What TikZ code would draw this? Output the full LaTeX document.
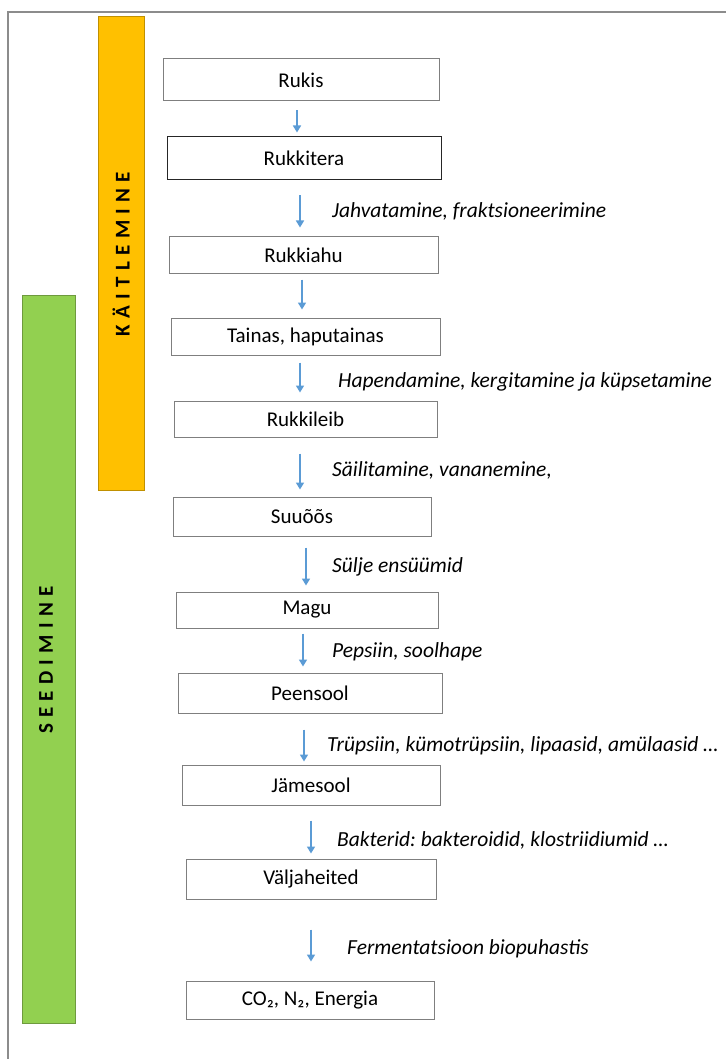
\documentclass[tikz,border=0pt]{standalone}
\usepackage{fontspec}
\setmainfont{Carlito}
\frenchspacing
\usetikzlibrary{arrows.meta}
\definecolor{framegray}{HTML}{8C8C8C}
\definecolor{boxgray}{HTML}{7F7F7F}
\definecolor{arrblue}{HTML}{5B9BD5}
\definecolor{barorange}{HTML}{FFC000}
\definecolor{barorangeline}{HTML}{C09000}
\definecolor{bargreen}{HTML}{92D050}
\definecolor{bargreenline}{HTML}{6E9A3E}
\tikzset{
  stagebox/.style={draw=boxgray, line width=1pt, fill=white, inner sep=0pt, font=\fontsize{21}{24}\selectfont},
  lbl/.style={anchor=west, inner sep=0pt, font=\fontsize{21.5}{24}\selectfont\itshape},
  arr/.style={draw=arrblue, line width=1.6pt, -{Triangle[length=7pt,width=8pt]}},
  bartext/.style={rotate=90, inner sep=0pt, font=\fontsize{21}{23}\selectfont\bfseries\addfontfeatures{LetterSpace=30}}
}
\begin{document}
\begin{tikzpicture}[x=1pt,y=-1pt]
\useasboundingbox (0,0) rectangle (726,1059);
% frame
\draw[framegray, line width=1.6pt] (8,1059) -- (8,12) -- (726,12);
% bars
\draw[barorangeline, fill=barorange, line width=0.8pt] (98,16) rectangle (144,490);
\draw[bargreenline, fill=bargreen, line width=0.8pt] (22,295) rectangle (75,1023);
\node[bartext] (kait) at (121,254) {KÄITLEMINE};
\node[bartext] (seed) at (46,660) {SEEDIMINE};
% boxes
\node[stagebox, minimum width=276pt, minimum height=42pt] (rukis) at (301,80) {Rukis};
\node[stagebox, draw=black!85, minimum width=274pt, minimum height=43pt] (rukkitera) at (304,158.5) {Rukkitera};
\node[stagebox, minimum width=269pt, minimum height=36pt] (rukkiahu) at (303.5,255) {Rukkiahu};
\node[stagebox, minimum width=269pt, minimum height=37pt] (tainas) at (305.5,336.5) {Tainas, haputainas};
\node[stagebox, minimum width=263pt, minimum height=36pt] (rukkileib) at (305.5,419) {Rukkileib};
\node[stagebox, minimum width=258pt, minimum height=39pt] (suuoos) at (302,516.5) {Suuõõs};
\node[stagebox, minimum width=262pt, minimum height=36pt] (magu) at (307,610) {Magu};
\node[stagebox, minimum width=264pt, minimum height=40pt] (peensool) at (310,693) {Peensool};
\node[stagebox, minimum width=258pt, minimum height=40pt] (jamesool) at (311,785) {Jämesool};
\node[stagebox, minimum width=250pt, minimum height=40pt] (valja) at (311,879) {Väljaheited};
\node[stagebox, minimum width=248pt, minimum height=38pt] (co2) at (310,1000) {CO₂, N₂, Energia};
% arrow x positions
\coordinate (a1) at (297,0);
\coordinate (a2) at (300,0);
\coordinate (a3) at (302,0);
\coordinate (a4) at (300,0);
\coordinate (a5) at (300,0);
\coordinate (a6) at (306,0);
\coordinate (a7) at (303,0);
\coordinate (a8) at (304,0);
\coordinate (a9) at (311,0);
\coordinate (a10) at (311,0);
% arrows
\draw[arr, shorten <=9pt, shorten >=4pt] (rukis.south -| a1) -- (rukkitera.north -| a1);
\draw[arr, shorten <=15pt, shorten >=9pt] (rukkitera.south -| a2) -- (rukkiahu.north -| a2);
\draw[arr, shorten <=6pt, shorten >=8pt] (rukkiahu.south -| a3) -- (tainas.north -| a3);
\draw[arr, shorten <=7pt, shorten >=8pt] (tainas.south -| a4) -- (rukkileib.north -| a4);
\draw[arr, shorten <=16pt, shorten >=7pt] (rukkileib.south -| a5) -- (suuoos.north -| a5);
\draw[arr, shorten <=11pt, shorten >=6pt] (suuoos.south -| a6) -- (magu.north -| a6);
\draw[arr, shorten <=5pt, shorten >=6pt] (magu.south -| a7) -- (peensool.north -| a7);
\draw[arr, shorten <=16pt, shorten >=3pt] (peensool.south -| a8) -- (jamesool.north -| a8);
\draw[arr, shorten <=15pt, shorten >=5pt] (jamesool.south -| a9) -- (valja.north -| a9);
\draw[arr, shorten <=30pt, shorten >=19pt] (valja.south -| a10) -- (co2.north -| a10);
% labels
\node[lbl] (l2) at (332,211) {Jahvatamine, fraktsioneerimine};
\node[lbl] (l4) at (338,382) {Hapendamine, kergitamine ja küpsetamine};
\node[lbl] (l5) at (332,470) {Säilitamine, vananemine,};
\node[lbl] (l6) at (332,567) {Sülje ensüümid};
\node[lbl] (l7) at (332,652) {Pepsiin, soolhape};
\node[lbl] (l8) at (327,746) {Trüpsiin, kümotrüpsiin, lipaasid, amülaasid …};
\node[lbl] (l9) at (337,840) {Bakterid: bakteroidid, klostriidiumid …};
\node[lbl] (l10) at (347,949) {Fermentatsioon biopuhastis};
\end{tikzpicture}
\end{document}
